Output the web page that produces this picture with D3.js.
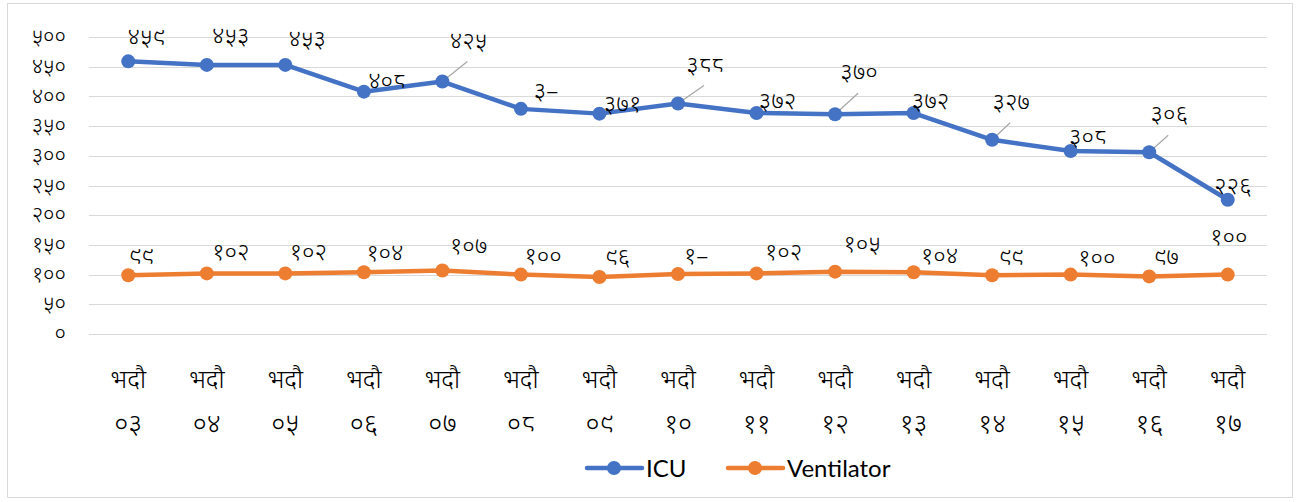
<!DOCTYPE html>
<html lang="ne">
  <head>
    <meta charset="utf-8">
    <title>ICU / Ventilator</title>
    <script src="https://cdn.jsdelivr.net/npm/d3@7"></script>
    <style>
      body { margin: 0; background: #fff; }
      .grid line { stroke: #d9d9d9; stroke-width: 1; shape-rendering: crispEdges; }
      .grid path { display: none; }
      .tick text, .lbl, .xlab { font-family: "Noto Sans", "Noto Sans Devanagari", sans-serif; fill: #000; font-weight: 300; }
      .legend text { font-family: Lato, "Open Sans", sans-serif; font-size: 24px; fill: #000; }
    </style>
  </head>
  <body>
    <script>
      var w = 1297, h = 502;

      // categories (भदौ ०३ ... भदौ १७)
      var days = ["०३", "०४", "०५", "०६", "०७", "०८", "०९", "१०", "११", "१२", "१३", "१४", "१५", "१६", "१७"];
      var icu = [459, 453, 453, 408, 425, 379, 371, 388, 372, 370, 372, 327, 308, 306, 226];
      var vent = [99, 102, 102, 104, 107, 100, 96, 101, 102, 105, 104, 99, 100, 97, 100];
      var icuLabels = ["४५९", "४५३", "४५३", "४०८", "४२५", "३–", "३७१", "३८८", "३७२", "३७०", "३७२", "३२७", "३०८", "३०६", "२२६"];
      var ventLabels = ["९९", "१०२", "१०२", "१०४", "१०७", "१००", "९६", "१–", "१०२", "१०५", "१०४", "९९", "१००", "९७", "१००"];
      var yTicks = [0, 50, 100, 150, 200, 250, 300, 350, 400, 450, 500];
      var yTickLabels = ["०", "५०", "१००", "१५०", "२००", "२५०", "३००", "३५०", "४००", "४५०", "५००"];

      // label placement (dx, dy from the marker), as moved by hand in the original
      var icuOff = [[18,-24],[24,-28],[22,-25],[23,-10],[26,-40],[25,-17],[23,-9],[27,-38],[21,-11],[24,-41],[17,-11],[19,-37],[17,-13],[20,-37],[5,-13]];
      var ventOff = [[13,-18],[24,-21],[23,-21],[21,-18],[26,-24],[22,-18],[18,-19],[18,-17],[27,-21],[27,-27],[26,-15],[19,-17],[26,-16],[17,-19],[1,-37]];
      var leaders = [4, 7, 9, 11, 13];

      var blue = "#4472c4", orange = "#ed7d31";

      var x = d3.scaleBand().domain(d3.range(days.length)).range([89, 1267]);
      var y = d3.scaleLinear().domain([0, 500]).range([334, 37]);
      var cx = function(i) { return x(i) + x.bandwidth() / 2; };

      var svg = d3.select("body").append("svg")
          .attr("width", w)
          .attr("height", h);

      svg.append("rect")
          .attr("x", 7.5).attr("y", 3.5)
          .attr("width", w - 12).attr("height", h - 8)
          .attr("fill", "#fff")
          .attr("stroke", "#d9d9d9");

      // gridlines + y labels
      var yAxis = d3.axisLeft(y)
          .tickValues(yTicks)
          .tickSize(-(1267 - 89))
          .tickPadding(23)
          .tickFormat(function(d, i) { return yTickLabels[i]; });

      var g = svg.append("g")
          .attr("class", "grid")
          .attr("transform", "translate(89,0)")
          .call(yAxis);
      g.selectAll("text").style("font-size", "22px").attr("dy", "0.3em");

      // x labels, two lines
      var xl = svg.append("g").selectAll("g")
          .data(days)
          .enter().append("g")
          .attr("transform", function(d, i) { return "translate(" + cx(i) + ",0)"; });
      xl.append("text")
          .attr("class", "xlab")
          .attr("y", 388)
          .attr("text-anchor", "middle")
          .style("font-size", "25px")
          .text("भदौ");
      xl.append("text")
          .attr("class", "xlab")
          .attr("y", 433)
          .attr("text-anchor", "middle")
          .style("font-size", "27px")
          .text(function(d) { return d; });

      var line = d3.line()
          .x(function(d, i) { return cx(i); })
          .y(function(d) { return y(d); });

      function series(vals, labels, off, color, leaderIdx) {
        var s = svg.append("g");

        s.selectAll("line.leader")
          .data(leaderIdx)
          .enter().append("line")
          .attr("class", "leader")
          .attr("x1", function(i) { return cx(i); })
          .attr("y1", function(i) { return y(vals[i]); })
          .attr("x2", function(i) { return cx(i) + off[i][0] - 1; })
          .attr("y2", function(i) { return y(vals[i]) + off[i][1] + 20; })
          .attr("stroke", "#a6a6a6")
          .attr("stroke-width", 1.2);

        s.append("path")
          .datum(vals)
          .attr("fill", "none")
          .attr("stroke", color)
          .attr("stroke-width", 4.5)
          .attr("stroke-linejoin", "round")
          .attr("d", line);

        s.selectAll("circle")
          .data(vals)
          .enter().append("circle")
          .attr("cx", function(d, i) { return cx(i); })
          .attr("cy", function(d) { return y(d); })
          .attr("r", 7)
          .attr("fill", color);

        s.selectAll("text")
          .data(vals)
          .enter().append("text")
          .attr("class", "lbl")
          .attr("x", function(d, i) { return cx(i) + off[i][0]; })
          .attr("y", function(d, i) { return y(d) + off[i][1]; })
          .attr("dy", "0.3em")
          .attr("text-anchor", "middle")
          .style("font-size", "24px")
          .text(function(d, i) { return labels[i]; });
      }

      series(icu, icuLabels, icuOff, blue, leaders);
      series(vent, ventLabels, ventOff, orange, []);

      // legend
      var legend = [{name: "ICU", color: blue, x: 587}, {name: "Ventilator", color: orange, x: 728}];
      var lg = svg.append("g").attr("class", "legend")
          .selectAll("g")
          .data(legend)
          .enter().append("g")
          .attr("transform", function(d) { return "translate(" + d.x + ",468)"; });
      lg.append("line")
          .attr("x1", 0).attr("x2", 55)
          .attr("stroke", function(d) { return d.color; })
          .attr("stroke-width", 4.5)
          .attr("stroke-linecap", "round");
      lg.append("circle")
          .attr("cx", 27).attr("r", 7)
          .attr("fill", function(d) { return d.color; });
      lg.append("text")
          .attr("x", 59)
          .attr("dy", "0.36em")
          .text(function(d) { return d.name; });
    </script>
  </body>
</html>
